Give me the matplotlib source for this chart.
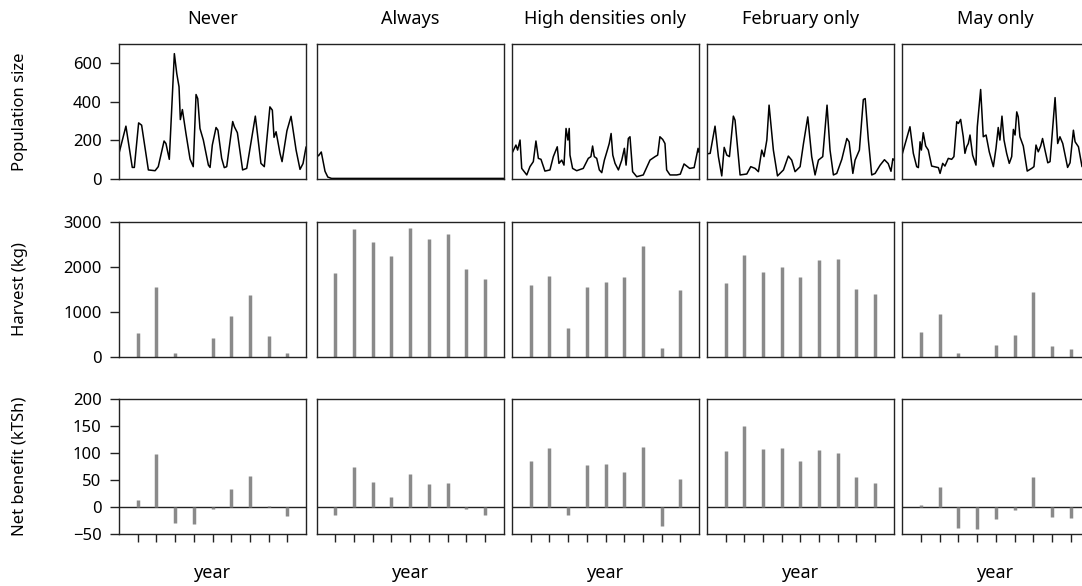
import numpy as np
import matplotlib
matplotlib.use('Agg')
import matplotlib.pyplot as plt

plt.rcParams['font.family'] = ['Noto Sans', 'DejaVu Sans']

scenarios = ['Never', 'Always', 'High densities only', 'February only', 'May only']
years = [1, 2, 3, 4, 5, 6, 7, 8, 9]

# population size through time (t in years, value)
pop_never_t = [0.0, 0.37, 0.71, 0.82, 1.05, 1.21, 1.57, 1.93, 2.10, 2.41, 2.51, 2.69, 2.96, 3.09,
               3.21, 3.28, 3.39, 3.58, 3.80, 3.97, 4.12, 4.21, 4.33, 4.51, 4.78, 4.87, 4.99, 5.19,
               5.29, 5.49, 5.63, 5.76, 6.08, 6.17, 6.33, 6.61, 6.83, 7.29, 7.59, 7.77, 8.07, 8.20,
               8.29, 8.40, 8.61, 8.72, 8.98, 9.20, 9.47, 9.68, 9.84, 10.0]
pop_never = [133, 274, 60, 60, 291, 279, 47, 43, 64, 197, 184, 102, 650, 546,
             478, 308, 360, 236, 103, 64, 438, 417, 262, 202, 72, 60, 176, 267,
             253, 107, 59, 64, 298, 271, 240, 47, 55, 326, 81, 64, 374, 357,
             216, 245, 133, 90, 250, 325, 150, 50, 80, 165]

pop_always_t = [0.0, 0.1, 0.25, 0.45, 0.6, 0.8, 10.0]
pop_always = [130, 120, 140, 40, 10, 3, 3]

pop_high_t = [0.0, 0.21, 0.30, 0.43, 0.52, 0.79, 0.96, 1.14, 1.28, 1.41, 1.55, 1.76, 2.03, 2.21,
              2.42, 2.51, 2.66, 2.78, 2.89, 2.99, 3.06, 3.10, 3.24, 3.46, 3.81, 4.08, 4.22, 4.31,
              4.40, 4.53, 4.67, 4.80, 4.94, 5.10, 5.20, 5.30, 5.39, 5.51, 5.69, 5.87, 6.01, 6.10,
              6.22, 6.31, 6.45, 6.67, 7.02, 7.38, 7.65, 7.79, 7.91, 8.06, 8.18, 8.27, 8.45, 8.81,
              9.0, 9.2, 9.5, 9.74, 9.95, 10.0]
pop_high = [133, 176, 150, 202, 55, 21, 64, 90, 197, 107, 102, 41, 47, 116,
            167, 81, 98, 72, 262, 202, 262, 124, 55, 43, 55, 107, 116, 171,
            116, 107, 47, 33, 98, 150, 184, 236, 124, 81, 47, 98, 159, 72,
            210, 219, 38, 12, 21, 98, 116, 124, 219, 205, 184, 47, 21, 21,
            25, 78, 55, 59, 159, 140]

pop_feb_t = [0.0, 0.18, 0.44, 0.62, 0.80, 0.93, 1.07, 1.21, 1.42, 1.51, 1.78, 2.14, 2.35, 2.58,
             2.76, 2.94, 3.06, 3.21, 3.33, 3.56, 3.78, 4.10, 4.36, 4.54, 4.72, 4.99, 5.17, 5.40,
             5.61, 5.79, 5.97, 6.20, 6.43, 6.59, 6.77, 6.95, 7.22, 7.49, 7.61, 7.81, 7.93, 8.16,
             8.37, 8.47, 8.64, 8.82, 9.00, 9.27, 9.5, 9.7, 9.85, 9.95, 10.0]
pop_feb = [130, 133, 274, 116, 16, 164, 124, 116, 326, 305, 21, 26, 64, 55,
           38, 150, 116, 202, 383, 150, 16, 47, 119, 98, 38, 64, 184, 322,
           116, 21, 98, 116, 383, 150, 21, 29, 102, 210, 193, 29, 98, 150,
           412, 417, 202, 21, 29, 72, 100, 80, 40, 105, 100]

pop_may_t = [0.0, 0.41, 0.59, 0.77, 0.86, 0.95, 1.02, 1.12, 1.25, 1.39, 1.57, 1.93, 2.02, 2.16,
             2.28, 2.46, 2.64, 2.76, 2.91, 3.00, 3.12, 3.26, 3.35, 3.44, 3.53, 3.62, 3.76, 3.94,
             4.01, 4.19, 4.33, 4.48, 4.65, 4.87, 5.01, 5.13, 5.22, 5.33, 5.44, 5.58, 5.72, 5.85,
             5.94, 6.03, 6.12, 6.20, 6.29, 6.47, 6.68, 6.92, 7.04, 7.15, 7.27, 7.40, 7.50, 7.63,
             7.78, 7.90, 8.17, 8.31, 8.43, 8.58, 8.84, 8.97, 9.15, 9.24, 9.42, 9.61, 10.0]
pop_may = [130, 271, 133, 64, 59, 193, 150, 240, 171, 150, 67, 59, 29, 81,
           67, 107, 102, 116, 297, 288, 309, 219, 133, 167, 184, 228, 124, 72,
           271, 464, 219, 228, 141, 64, 159, 267, 202, 326, 202, 133, 81, 116,
           257, 228, 348, 322, 219, 171, 41, 55, 64, 176, 141, 171, 210, 150,
           84, 90, 422, 184, 219, 184, 60, 84, 253, 193, 167, 64, 80]

pop_t = [pop_never_t, pop_always_t, pop_high_t, pop_feb_t, pop_may_t]
pop = [pop_never, pop_always, pop_high, pop_feb, pop_may]

# harvest (kg) per year
harvest_never = [537, 1550, 75, 0, 410, 915, 1365, 460, 85]
harvest_always = [1850, 2830, 2555, 2245, 2865, 2605, 2720, 1960, 1720]
harvest_high = [1590, 1790, 640, 1560, 1660, 1770, 2470, 200, 1480]
harvest_feb = [1640, 2270, 1880, 2000, 1780, 2160, 2180, 1510, 1390]
harvest_may = [560, 960, 80, 0, 260, 474, 1430, 230, 163]
harvest = [harvest_never, harvest_always, harvest_high, harvest_feb, harvest_may]

# net benefit (kTSh) per year
net_never = [13.5, 97.5, -29, -31, -3, 33, 57, 2.5, -17]
net_always = [-14, 75, 46, 19, 62, 42, 45, -3, -15]
net_high = [86, 110, -15, 77, 80, 65, 112, -35, 51]
net_feb = [103, 150, 108, 109, 86, 106, 100, 56, 45]
net_may = [3, 37, -39, -41, -22, -5, 56, -19, -20]
net = [net_never, net_always, net_high, net_feb, net_may]

W, H = 1082, 586
fig = plt.figure(figsize=(W / 100, H / 100), dpi=100)

col_left = [119, 316.6, 512, 706.8, 902.3]
col_w = 187
row_top = [44, 221.7, 399]
row_h = 135
bar_col = '#8a8a8a'
fs = 12
ylab_x = (28 - 119) / col_w

def make_ax(r, c):
    l, t = col_left[c], row_top[r]
    ax = fig.add_axes([l / W, 1 - (t + row_h) / H, col_w / W, row_h / H])
    for s in ax.spines.values():
        s.set_linewidth(1.0)
        s.set_color('#222222')
    ax.set_xlim(0, 10)
    ax.tick_params(axis='both', length=6.5, width=1, color='#222222', labelsize=fs, pad=6)
    return ax

ylabels = ['Population size', 'Harvest (kg)', 'Net benefit (kTSh)']

for c in range(5):
    # population
    ax0 = make_ax(0, c)
    ax0.plot(pop_t[c], pop[c], color='black', lw=1.1)
    ax0.set_ylim(0, 700)
    ax0.set_yticks([0, 200, 400, 600])

    # harvest
    ax1 = make_ax(1, c)
    ax1.vlines(years, 0, harvest[c], color=bar_col, lw=2.5)
    ax1.set_ylim(0, 3000)
    ax1.set_yticks([0, 1000, 2000, 3000])

    # net benefit
    ax2 = make_ax(2, c)
    ax2.axhline(0, color='#222222', lw=1.0)
    ax2.vlines(years, 0, net[c], color=bar_col, lw=2.5)
    ax2.set_ylim(-50, 200)
    ax2.set_yticks([-50, 0, 50, 100, 150, 200])
    ax2.set_xticks(years)
    ax2.set_xticklabels([])
    ax2.tick_params(axis='x', length=6)

    for r, ax in enumerate([ax0, ax1, ax2]):
        if r < 2:
            ax.set_xticks([])
        if c > 0:
            ax.set_yticks([])
        else:
            ax.set_ylabel(ylabels[r], fontsize=fs)
            ax.yaxis.set_label_coords(ylab_x, 0.5)

    xc = (col_left[c] + col_w / 2) / W
    fig.text(xc, 1 - 19 / H, scenarios[c], ha='center', va='center', fontsize=13)
    fig.text(xc, 1 - 573 / H, 'year', ha='center', va='center', fontsize=13)

fig.savefig('out.png', dpi=100)
